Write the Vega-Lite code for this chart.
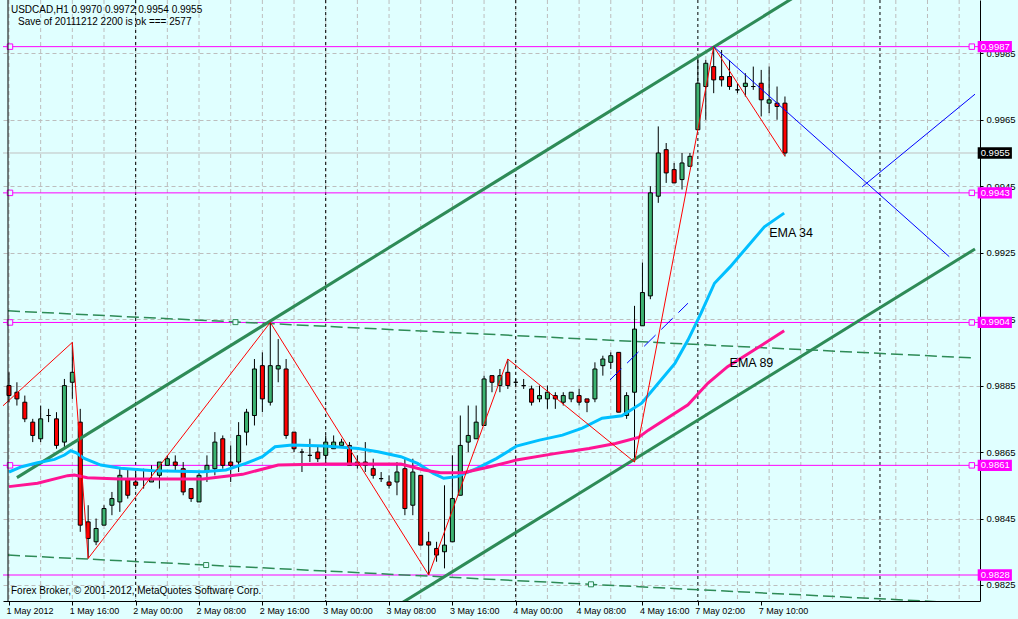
{
"$schema": "https://vega.github.io/schema/vega-lite/v6.json",
"width": 977, "height": 601,
"autosize": {"type": "none"},
"padding": {"left": 3, "top": 0, "right": 38, "bottom": 18},
"background": "#E0FFFF",
"config": {
 "view": {"stroke": null},
 "axis": {"labelFont": "Liberation Sans", "labelFontSize": 9.5, "labelColor": "black", "domainColor": "black", "tickColor": "black", "gridColor": "#BDBDBD", "gridDash": [4, 3], "gridWidth": 1, "labelOverlap": false, "labelFlush": false, "labelBound": false, "labelSeparation": 0}
},
"datasets": {
 "candles": [
{"i":0,"o":0.9885,"h":0.9889,"l":0.9880,"c":0.9882},
{"i":1,"o":0.9883,"h":0.9886,"l":0.9879,"c":0.9881},
{"i":2,"o":0.9880,"h":0.9882,"l":0.9874,"c":0.9875},
{"i":3,"o":0.9874,"h":0.9875,"l":0.9868,"c":0.9870},
{"i":4,"o":0.9869,"h":0.9879,"l":0.9868,"c":0.9875},
{"i":5,"o":0.9876,"h":0.9878,"l":0.9874,"c":0.9876},
{"i":6,"o":0.9875,"h":0.9877,"l":0.9866,"c":0.9867},
{"i":7,"o":0.9868,"h":0.9887,"l":0.9866,"c":0.9885},
{"i":8,"o":0.9886,"h":0.9898,"l":0.9881,"c":0.9889},
{"i":9,"o":0.9874,"h":0.9878,"l":0.9841,"c":0.9843},
{"i":10,"o":0.9844,"h":0.9849,"l":0.9833,"c":0.9839},
{"i":11,"o":0.9838,"h":0.9845,"l":0.9837,"c":0.9842},
{"i":12,"o":0.9843,"h":0.9849,"l":0.9843,"c":0.9848},
{"i":13,"o":0.9849,"h":0.9853,"l":0.9846,"c":0.9851},
{"i":14,"o":0.9850,"h":0.9860,"l":0.9847,"c":0.9858},
{"i":15,"o":0.9857,"h":0.9860,"l":0.9851,"c":0.9852},
{"i":16,"o":0.9856,"h":0.9860,"l":0.9855,"c":0.9855},
{"i":17,"o":0.9857,"h":0.9860,"l":0.9854,"c":0.9857},
{"i":18,"o":0.9856,"h":0.9861,"l":0.9856,"c":0.9857},
{"i":19,"o":0.9858,"h":0.9862,"l":0.9854,"c":0.9862},
{"i":20,"o":0.9861,"h":0.9864,"l":0.9861,"c":0.9863},
{"i":21,"o":0.9862,"h":0.9864,"l":0.9859,"c":0.9861},
{"i":22,"o":0.9860,"h":0.9862,"l":0.9852,"c":0.9853},
{"i":23,"o":0.9854,"h":0.9854,"l":0.9850,"c":0.9851},
{"i":24,"o":0.9850,"h":0.9859,"l":0.9850,"c":0.9858},
{"i":25,"o":0.9859,"h":0.9864,"l":0.9856,"c":0.9861},
{"i":26,"o":0.9860,"h":0.9871,"l":0.9858,"c":0.9868},
{"i":27,"o":0.9869,"h":0.9870,"l":0.9860,"c":0.9861},
{"i":28,"o":0.9862,"h":0.9867,"l":0.9856,"c":0.9861},
{"i":29,"o":0.9862,"h":0.9874,"l":0.9859,"c":0.9870},
{"i":30,"o":0.9871,"h":0.9878,"l":0.9867,"c":0.9877},
{"i":31,"o":0.9876,"h":0.9893,"l":0.9873,"c":0.9890},
{"i":32,"o":0.9891,"h":0.9895,"l":0.9877,"c":0.9881},
{"i":33,"o":0.9880,"h":0.9904,"l":0.9879,"c":0.9891},
{"i":34,"o":0.9890,"h":0.9899,"l":0.9886,"c":0.9891},
{"i":35,"o":0.9890,"h":0.9893,"l":0.9869,"c":0.9870},
{"i":36,"o":0.9871,"h":0.9871,"l":0.9865,"c":0.9866},
{"i":37,"o":0.9865,"h":0.9866,"l":0.9859,"c":0.9865},
{"i":38,"o":0.9864,"h":0.9869,"l":0.9862,"c":0.9864},
{"i":39,"o":0.9865,"h":0.9867,"l":0.9862,"c":0.9863},
{"i":40,"o":0.9864,"h":0.9870,"l":0.9861,"c":0.9868},
{"i":41,"o":0.9866,"h":0.9870,"l":0.9866,"c":0.9868},
{"i":42,"o":0.9867,"h":0.9869,"l":0.9867,"c":0.9868},
{"i":43,"o":0.9867,"h":0.9868,"l":0.9861,"c":0.9861},
{"i":44,"o":0.9862,"h":0.9864,"l":0.9860,"c":0.9861},
{"i":45,"o":0.9862,"h":0.9868,"l":0.9859,"c":0.9861},
{"i":46,"o":0.9860,"h":0.9863,"l":0.9857,"c":0.9858},
{"i":47,"o":0.9857,"h":0.9859,"l":0.9856,"c":0.9857},
{"i":48,"o":0.9856,"h":0.9858,"l":0.9854,"c":0.9855},
{"i":49,"o":0.9856,"h":0.9862,"l":0.9852,"c":0.9859},
{"i":50,"o":0.9860,"h":0.9863,"l":0.9846,"c":0.9848},
{"i":51,"o":0.9849,"h":0.9863,"l":0.9846,"c":0.9859},
{"i":52,"o":0.9858,"h":0.9858,"l":0.9837,"c":0.9837},
{"i":53,"o":0.9838,"h":0.9841,"l":0.9828,"c":0.9837},
{"i":54,"o":0.9836,"h":0.9838,"l":0.9832,"c":0.9834},
{"i":55,"o":0.9835,"h":0.9855,"l":0.9830,"c":0.9837},
{"i":56,"o":0.9838,"h":0.9864,"l":0.9838,"c":0.9851},
{"i":57,"o":0.9852,"h":0.9876,"l":0.9852,"c":0.9867},
{"i":58,"o":0.9868,"h":0.9879,"l":0.9865,"c":0.9870},
{"i":59,"o":0.9869,"h":0.9879,"l":0.9869,"c":0.9874},
{"i":60,"o":0.9873,"h":0.9888,"l":0.9873,"c":0.9887},
{"i":61,"o":0.9888,"h":0.9888,"l":0.9883,"c":0.9886},
{"i":62,"o":0.9885,"h":0.9890,"l":0.9883,"c":0.9888},
{"i":63,"o":0.9889,"h":0.9893,"l":0.9884,"c":0.9885},
{"i":64,"o":0.9886,"h":0.9887,"l":0.9885,"c":0.9886},
{"i":65,"o":0.9885,"h":0.9887,"l":0.9884,"c":0.9885},
{"i":66,"o":0.9884,"h":0.9885,"l":0.9879,"c":0.9880},
{"i":67,"o":0.9881,"h":0.9885,"l":0.9880,"c":0.9882},
{"i":68,"o":0.9881,"h":0.9885,"l":0.9878,"c":0.9883},
{"i":69,"o":0.9882,"h":0.9883,"l":0.9878,"c":0.9881},
{"i":70,"o":0.9880,"h":0.9883,"l":0.9879,"c":0.9882},
{"i":71,"o":0.9881,"h":0.9883,"l":0.9880,"c":0.9883},
{"i":72,"o":0.9882,"h":0.9884,"l":0.9879,"c":0.9880},
{"i":73,"o":0.9881,"h":0.9881,"l":0.9877,"c":0.9880},
{"i":74,"o":0.9881,"h":0.9892,"l":0.9880,"c":0.9890},
{"i":75,"o":0.9891,"h":0.9894,"l":0.9888,"c":0.9893},
{"i":76,"o":0.9892,"h":0.9895,"l":0.9890,"c":0.9894},
{"i":77,"o":0.9895,"h":0.9895,"l":0.9877,"c":0.9877},
{"i":78,"o":0.9876,"h":0.9883,"l":0.9875,"c":0.9882},
{"i":79,"o":0.9883,"h":0.9909,"l":0.9862,"c":0.9902},
{"i":80,"o":0.9903,"h":0.9922,"l":0.9903,"c":0.9913},
{"i":81,"o":0.9912,"h":0.9945,"l":0.9911,"c":0.9943},
{"i":82,"o":0.9942,"h":0.9963,"l":0.9940,"c":0.9955},
{"i":83,"o":0.9956,"h":0.9958,"l":0.9946,"c":0.9949},
{"i":84,"o":0.9950,"h":0.9952,"l":0.9946,"c":0.9946},
{"i":85,"o":0.9947,"h":0.9955,"l":0.9944,"c":0.9952},
{"i":86,"o":0.9951,"h":0.9955,"l":0.9951,"c":0.9954},
{"i":87,"o":0.9962,"h":0.9984,"l":0.9962,"c":0.9976},
{"i":88,"o":0.9975,"h":0.9983,"l":0.9965,"c":0.9982},
{"i":89,"o":0.9981,"h":0.9987,"l":0.9973,"c":0.9977},
{"i":90,"o":0.9978,"h":0.9986,"l":0.9975,"c":0.9977},
{"i":91,"o":0.9978,"h":0.9983,"l":0.9974,"c":0.9975},
{"i":92,"o":0.9974,"h":0.9976,"l":0.9973,"c":0.9974},
{"i":93,"o":0.9975,"h":0.9979,"l":0.9972,"c":0.9976},
{"i":94,"o":0.9975,"h":0.9981,"l":0.9974,"c":0.9975},
{"i":95,"o":0.9976,"h":0.9980,"l":0.9966,"c":0.9971},
{"i":96,"o":0.9970,"h":0.9981,"l":0.9967,"c":0.9971},
{"i":97,"o":0.9970,"h":0.9975,"l":0.9965,"c":0.9969},
{"i":98,"o":0.9970,"h":0.9972,"l":0.9954,"c":0.9955}
 ],
 "ema34": [
{"i":0,"p":0.98590},{"i":1.6,"p":0.98606},{"i":3.6,"p":0.98618},{"i":5.75,"p":0.98628},{"i":7,"p":0.98641},{"i":7.8,"p":0.98654},{"i":8.5,"p":0.98648},{"i":9.5,"p":0.98631},{"i":11.6,"p":0.98611},{"i":14.1,"p":0.98601},{"i":18.25,"p":0.98594},{"i":24.5,"p":0.98591},{"i":27.4,"p":0.98596},{"i":29.9,"p":0.98616},{"i":32,"p":0.98636},{"i":33.6,"p":0.98666},{"i":35.75,"p":0.98671},{"i":39.9,"p":0.98668},{"i":44.1,"p":0.98661},{"i":46.6,"p":0.98651},{"i":49.5,"p":0.98636},{"i":51.6,"p":0.98616},{"i":53.6,"p":0.98586},{"i":54.9,"p":0.98571},{"i":56.6,"p":0.98576},{"i":59.1,"p":0.98601},{"i":61.6,"p":0.98631},{"i":64.1,"p":0.98668},{"i":67,"p":0.98686},{"i":69.9,"p":0.98701},{"i":72.4,"p":0.98722},{"i":74.9,"p":0.98752},{"i":77.4,"p":0.98759},{"i":79.9,"p":0.98797},{"i":82,"p":0.98857},{"i":84.1,"p":0.98917},{"i":85.75,"p":0.98987},{"i":87.4,"p":0.99068},{"i":89.1,"p":0.99158},{"i":91.1,"p":0.99208},{"i":93.25,"p":0.99268},{"i":95.4,"p":0.99328},{"i":97.9,"p":0.99369}
 ],
 "ema89": [
{"i":0,"p":0.98546},{"i":3.6,"p":0.98556},{"i":7.4,"p":0.98579},{"i":8.25,"p":0.98581},{"i":9.9,"p":0.98573},{"i":14,"p":0.98569},{"i":24.5,"p":0.98569},{"i":29.5,"p":0.98583},{"i":34,"p":0.98611},{"i":40,"p":0.98614},{"i":49.5,"p":0.98614},{"i":52.4,"p":0.98596},{"i":54.5,"p":0.98588},{"i":57.4,"p":0.98588},{"i":60.75,"p":0.98606},{"i":64.1,"p":0.98626},{"i":69.1,"p":0.98646},{"i":73.25,"p":0.98661},{"i":76.6,"p":0.98676},{"i":79.5,"p":0.98694},{"i":80.75,"p":0.98716},{"i":85.75,"p":0.98792},{"i":88.25,"p":0.98857},{"i":90.75,"p":0.98907},{"i":94.1,"p":0.98957},{"i":97.9,"p":0.99015}
 ],
 "channel": [
{"id":"up","k":0,"i":1,"p":0.98573},{"id":"up","k":1,"i":100,"p":1.00031},
{"id":"lo","k":0,"i":49,"p":0.98187},{"id":"lo","k":1,"i":122,"p":0.99261}
 ],
 "dashg": [
{"id":"d1","k":0,"i":-0.125,"p":0.99075},{"id":"d1","k":1,"i":122,"p":0.98933},
{"id":"d2","k":0,"i":-0.125,"p":0.98340},{"id":"d2","k":1,"i":122,"p":0.98194}
 ],
 "zigzag": [
{"k":0,"i":-1,"p":0.98784},{"k":1,"i":8,"p":0.9898},{"k":2,"i":10,"p":0.9833},{"k":3,"i":33,"p":0.9904},{"k":4,"i":53,"p":0.9828},{"k":5,"i":63,"p":0.9893},{"k":6,"i":79,"p":0.9862},{"k":7,"i":89,"p":0.9987},{"k":8,"i":98,"p":0.9954}
 ],
 "blue": [
{"id":"b1","k":0,"i":89,"p":0.9987},{"id":"b1","k":1,"i":118.75,"p":0.99238},
{"id":"b2","k":0,"i":107.75,"p":0.99448},{"id":"b2","k":1,"i":122,"p":0.99727}
 ],
 "bluedash": [{"k":0,"i":75.9,"p":0.98867},{"k":1,"i":85.75,"p":0.99098}],
 "levels": [{"p":0.9987},{"p":0.9943},{"p":0.9904},{"p":0.9861},{"p":0.9828}],
 "vgrid": [{"i":0},{"i":4},{"i":8},{"i":12},{"i":16},{"i":20},{"i":24},{"i":28},{"i":32},{"i":36},{"i":40},{"i":44},{"i":48},{"i":52},{"i":56},{"i":60},{"i":64},{"i":68},{"i":72},{"i":76},{"i":80},{"i":84},{"i":88},{"i":92},{"i":96},{"i":100},{"i":104},{"i":108},{"i":112},{"i":116},{"i":120}],
 "seps": [{"i":16},{"i":40},{"i":64},{"i":87},{"i":110}],
 "msq": [{"i":0.125,"p":0.9987},{"i":0.125,"p":0.9943},{"i":0.125,"p":0.9904},{"i":0.125,"p":0.9861},{"i":121.6,"p":0.9987},{"i":121.6,"p":0.9943},{"i":121.6,"p":0.9904},{"i":121.6,"p":0.9861}],
 "gsq": [{"i":28.6,"p":0.99041},{"i":24.9,"p":0.98310},{"i":73.5,"p":0.98252}],
 "tags": [{"i":122.34,"i2":126.66,"p":0.9987,"lo":0.99853,"hi":0.99887,"kind":"m"},{"i":122.34,"i2":126.66,"p":0.9943,"lo":0.99413,"hi":0.99447,"kind":"m"},{"i":122.34,"i2":126.66,"p":0.9904,"lo":0.99023,"hi":0.99057,"kind":"m"},{"i":122.34,"i2":126.66,"p":0.9861,"lo":0.98593,"hi":0.98627,"kind":"m"},{"i":122.34,"i2":126.66,"p":0.9828,"lo":0.98263,"hi":0.98297,"kind":"m"},{"i":122.34,"i2":126.66,"p":0.9955,"lo":0.99533,"hi":0.99567,"kind":"b"}],
 "notes": [{"i":0.25,"p":0.99980,"t":"USDCAD,H1  0.9970 0.9972 0.9954 0.9955"},{"i":1.15,"p":0.99944,"t":"Save of 20111212 2200 is ok  === 2577"},{"i":0.25,"p":0.98232,"t":"Forex Broker, © 2001-2012, MetaQuotes Software Corp."}],
 "emalabels": [{"i":96,"p":0.99309,"t":"EMA 34"},{"i":91,"p":0.98918,"t":"EMA 89"}]
},
"layer": [
 {"data": {"name": "vgrid"}, "mark": {"type": "rule", "color": "#BDBDBD", "strokeDash": [4, 3], "strokeWidth": 1},
  "encoding": {"x": {"field": "i", "type": "quantitative", "title": null, "scale": {"domain": [-0.125, 122], "nice": false, "zero": false},
    "axis": {"orient": "bottom", "values": [0,8,16,24,32,40,48,56,64,72,80,87,95],
     "labelExpr": "datum.value==0?'1 May 2012':datum.value==8?'1 May 16:00':datum.value==16?'2 May 00:00':datum.value==24?'2 May 08:00':datum.value==32?'2 May 16:00':datum.value==40?'3 May 00:00':datum.value==48?'3 May 08:00':datum.value==56?'3 May 16:00':datum.value==64?'4 May 00:00':datum.value==72?'4 May 08:00':datum.value==80?'4 May 16:00':datum.value==87?'7 May 02:00':'7 May 10:00'",
     "labelAlign": "left", "labelPadding": 1, "labelOffset": -3, "tickSize": 4, "grid": false, "labelOverlap": false, "labelFontSize": 9}}}},
 {"data": {"name": "seps"}, "mark": {"type": "rule", "color": "black", "strokeDash": [3, 3], "strokeWidth": 1},
  "encoding": {"x": {"field": "i", "type": "quantitative", "title": null, "scale": {"domain": [-0.125, 122], "nice": false, "zero": false}}}},
 {"data": {"name": "levels"}, "mark": {"type": "rule", "color": "#FF00FF", "strokeWidth": 1},
  "encoding": {"y": {"field": "p", "type": "quantitative", "title": null, "scale": {"domain": [0.982018, 1.000104], "nice": false, "zero": false},
    "axis": {"orient": "right", "values": [0.9825,0.9835,0.9845,0.9855,0.9865,0.9875,0.9885,0.9895,0.9905,0.9915,0.9925,0.9935,0.9945,0.9955,0.9965,0.9975,0.9985,0.9995], "format": ".4f", "labelExpr": "abs(datum.value - 0.9955) < 0.00001 ? '' : datum.label", "tickSize": 3, "labelPadding": 3, "grid": true, "labelOverlap": false}}}},
 {"data": {"values": [{"p": 0.9955}]}, "mark": {"type": "rule", "color": "#C0C0C0", "strokeWidth": 1},
  "encoding": {"y": {"field": "p", "type": "quantitative", "title": null, "scale": {"domain": [0.982018, 1.000104], "nice": false, "zero": false}}}},
 {"data": {"name": "dashg"}, "mark": {"type": "line", "color": "#2E8B57", "strokeWidth": 1.5, "strokeDash": [12, 5], "clip": true},
  "encoding": {"x": {"field": "i", "type": "quantitative", "title": null, "scale": {"domain": [-0.125, 122], "nice": false, "zero": false}},
   "y": {"field": "p", "type": "quantitative", "title": null, "scale": {"domain": [0.982018, 1.000104], "nice": false, "zero": false}},
   "detail": {"field": "id"}, "order": {"field": "k"}}},
 {"data": {"name": "candles"}, "mark": {"type": "rule", "color": "black", "strokeWidth": 1},
  "encoding": {"x": {"field": "i", "type": "quantitative", "title": null, "scale": {"domain": [-0.125, 122], "nice": false, "zero": false}},
   "y": {"field": "l", "type": "quantitative", "title": null, "scale": {"domain": [0.982018, 1.000104], "nice": false, "zero": false}},
   "y2": {"field": "h"}}},
 {"data": {"name": "candles"}, "mark": {"type": "bar", "width": 4, "stroke": "black", "strokeWidth": 1, "opacity": 1},
  "encoding": {"x": {"field": "i", "type": "quantitative", "title": null, "scale": {"domain": [-0.125, 122], "nice": false, "zero": false}},
   "y": {"field": "o", "type": "quantitative", "title": null, "scale": {"domain": [0.982018, 1.000104], "nice": false, "zero": false}},
   "y2": {"field": "c"},
   "color": {"condition": {"test": "datum.c >= datum.o", "value": "#3CB371"}, "value": "#FF0000"}}},
 {"data": {"name": "channel"}, "mark": {"type": "line", "color": "#2E8B57", "strokeWidth": 3, "clip": true},
  "encoding": {"x": {"field": "i", "type": "quantitative", "title": null, "scale": {"domain": [-0.125, 122], "nice": false, "zero": false}},
   "y": {"field": "p", "type": "quantitative", "title": null, "scale": {"domain": [0.982018, 1.000104], "nice": false, "zero": false}},
   "detail": {"field": "id"}, "order": {"field": "k"}}},
 {"data": {"name": "ema34"}, "mark": {"type": "line", "color": "#00BFFF", "strokeWidth": 3, "clip": true},
  "encoding": {"x": {"field": "i", "type": "quantitative", "title": null, "scale": {"domain": [-0.125, 122], "nice": false, "zero": false}},
   "y": {"field": "p", "type": "quantitative", "title": null, "scale": {"domain": [0.982018, 1.000104], "nice": false, "zero": false}}}},
 {"data": {"name": "ema89"}, "mark": {"type": "line", "color": "#FF1493", "strokeWidth": 3, "clip": true},
  "encoding": {"x": {"field": "i", "type": "quantitative", "title": null, "scale": {"domain": [-0.125, 122], "nice": false, "zero": false}},
   "y": {"field": "p", "type": "quantitative", "title": null, "scale": {"domain": [0.982018, 1.000104], "nice": false, "zero": false}}}},
 {"data": {"name": "zigzag"}, "mark": {"type": "line", "color": "#FF0000", "strokeWidth": 1, "clip": true},
  "encoding": {"x": {"field": "i", "type": "quantitative", "title": null, "scale": {"domain": [-0.125, 122], "nice": false, "zero": false}},
   "y": {"field": "p", "type": "quantitative", "title": null, "scale": {"domain": [0.982018, 1.000104], "nice": false, "zero": false}},
   "order": {"field": "k"}}},
 {"data": {"name": "blue"}, "mark": {"type": "line", "color": "#0000FF", "strokeWidth": 1, "clip": true},
  "encoding": {"x": {"field": "i", "type": "quantitative", "title": null, "scale": {"domain": [-0.125, 122], "nice": false, "zero": false}},
   "y": {"field": "p", "type": "quantitative", "title": null, "scale": {"domain": [0.982018, 1.000104], "nice": false, "zero": false}},
   "detail": {"field": "id"}, "order": {"field": "k"}}},
 {"data": {"name": "bluedash"}, "mark": {"type": "line", "color": "#0000FF", "strokeWidth": 1, "strokeDash": [16, 8], "clip": true},
  "encoding": {"x": {"field": "i", "type": "quantitative", "title": null, "scale": {"domain": [-0.125, 122], "nice": false, "zero": false}},
   "y": {"field": "p", "type": "quantitative", "title": null, "scale": {"domain": [0.982018, 1.000104], "nice": false, "zero": false}},
   "order": {"field": "k"}}},
 {"data": {"name": "msq"}, "mark": {"type": "point", "shape": "square", "size": 30, "filled": true, "fill": "#E0FFFF", "stroke": "#FF00FF", "strokeWidth": 1, "opacity": 1},
  "encoding": {"x": {"field": "i", "type": "quantitative", "title": null, "scale": {"domain": [-0.125, 122], "nice": false, "zero": false}},
   "y": {"field": "p", "type": "quantitative", "title": null, "scale": {"domain": [0.982018, 1.000104], "nice": false, "zero": false}}}},
 {"data": {"name": "gsq"}, "mark": {"type": "point", "shape": "square", "size": 25, "filled": true, "fill": "#E0FFFF", "stroke": "#2E8B57", "strokeWidth": 1, "opacity": 1},
  "encoding": {"x": {"field": "i", "type": "quantitative", "title": null, "scale": {"domain": [-0.125, 122], "nice": false, "zero": false}},
   "y": {"field": "p", "type": "quantitative", "title": null, "scale": {"domain": [0.982018, 1.000104], "nice": false, "zero": false}}}},
 {"data": {"name": "notes"}, "mark": {"type": "text", "align": "left", "baseline": "middle", "font": "Liberation Sans", "fontSize": 10, "color": "black"},
  "encoding": {"x": {"field": "i", "type": "quantitative", "title": null, "scale": {"domain": [-0.125, 122], "nice": false, "zero": false}},
   "y": {"field": "p", "type": "quantitative", "title": null, "scale": {"domain": [0.982018, 1.000104], "nice": false, "zero": false}},
   "text": {"field": "t"}}},
 {"data": {"name": "emalabels"}, "mark": {"type": "text", "align": "left", "baseline": "middle", "font": "Liberation Sans", "fontSize": 12.5, "color": "black"},
  "encoding": {"x": {"field": "i", "type": "quantitative", "title": null, "scale": {"domain": [-0.125, 122], "nice": false, "zero": false}},
   "y": {"field": "p", "type": "quantitative", "title": null, "scale": {"domain": [0.982018, 1.000104], "nice": false, "zero": false}},
   "text": {"field": "t"}}},
 {"data": {"name": "tags"}, "mark": {"type": "rect"},
  "encoding": {"x": {"field": "i", "type": "quantitative", "title": null, "scale": {"domain": [-0.125, 122], "nice": false, "zero": false}},
   "x2": {"field": "i2"},
   "y": {"field": "lo", "type": "quantitative", "title": null, "scale": {"domain": [0.982018, 1.000104], "nice": false, "zero": false}},
   "y2": {"field": "hi"},
   "color": {"condition": {"test": "datum.kind == 'b'", "value": "#000000"}, "value": "#FF00FF"}}},
 {"data": {"name": "tags"}, "mark": {"type": "text", "align": "left", "baseline": "middle", "font": "Liberation Sans", "fontSize": 9.5, "color": "white", "dx": 3},
  "encoding": {"x": {"field": "i", "type": "quantitative", "title": null, "scale": {"domain": [-0.125, 122], "nice": false, "zero": false}},
   "y": {"field": "p", "type": "quantitative", "title": null, "scale": {"domain": [0.982018, 1.000104], "nice": false, "zero": false}},
   "text": {"field": "p", "type": "quantitative", "format": ".4f"}}},
 {"data": {"values": [{"i": -0.125}]}, "mark": {"type": "rule", "color": "black", "strokeWidth": 1},
  "encoding": {"x": {"field": "i", "type": "quantitative", "title": null, "scale": {"domain": [-0.125, 122], "nice": false, "zero": false}}}}
]
}
